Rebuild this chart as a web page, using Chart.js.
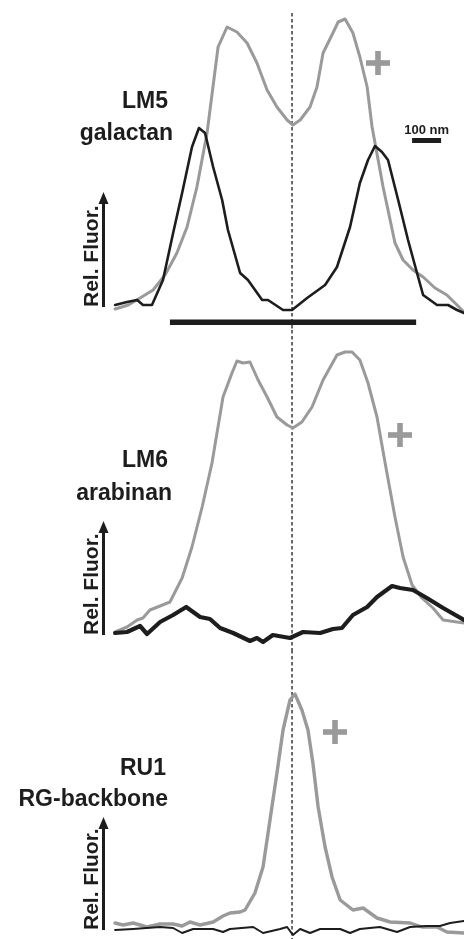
<!DOCTYPE html>
<html>
<head>
<meta charset="utf-8">
<script src="https://cdn.jsdelivr.net/npm/chart.js@4"></script>
<style>
  body { margin: 0; background: #fff; }
  .panel { position: absolute; left: 0; }
</style>
</head>
<body>
<canvas id="lm5" class="panel" width="464" height="330" style="top:0"></canvas>
<canvas id="lm6" class="panel" width="464" height="320" style="top:330px"></canvas>
<canvas id="ru1" class="panel" width="464" height="289" style="top:650px"></canvas>
<script>
// position across the wall, nm (0 = dashed centre line)
const lm5GrayX = [-610, -565, -524, -479, -438, -397, -362, -328, -293, -255, -224, -190, -155, -121, -86, -52, -17, 3, 28, 62, 86, 107, 141, 159, 183, 210, 234, 259, 276, 297, 314, 331, 355, 383, 417, 452, 493, 534, 562, 593];
const lm5GrayY = [4, 8, 15, 23, 38, 60, 86, 126, 180, 266, 286, 281, 270, 250, 223, 206, 193, 188, 193, 206, 226, 260, 280, 291, 294, 280, 256, 226, 186, 153, 126, 103, 70, 53, 43, 36, 25, 18, 10, 1];
const lm5BlackX = [-610, -569, -534, -514, -483, -445, -410, -379, -345, -321, -300, -272, -241, -221, -179, -152, -103, -83, -31, 0, 52, 114, 155, 200, 234, 262, 286, 310, 331, 366, 400, 431, 452, 500, 538, 569, 593];
const lm5BlackY = [8, 11, 13, 8, 8, 33, 80, 120, 166, 185, 180, 146, 113, 83, 40, 33, 13, 13, 3, 3, 15, 28, 46, 86, 130, 153, 167, 161, 153, 113, 73, 40, 18, 8, 8, 3, 0];

const lm6GrayX = [-610, -569, -534, -514, -490, -455, -421, -379, -345, -310, -276, -238, -207, -190, -169, -145, -117, -86, -52, -17, 3, 34, 69, 107, 155, 183, 207, 234, 262, 293, 321, 355, 383, 414, 448, 486, 521, 593];
const lm6GrayY = [8, 13, 20, 22, 30, 34, 38, 62, 93, 133, 177, 243, 267, 279, 277, 278, 260, 243, 223, 215, 212, 218, 233, 260, 285, 288, 288, 280, 257, 223, 177, 123, 83, 55, 42, 32, 20, 17];
const lm6BlackX = [-610, -569, -524, -500, -455, -410, -365, -317, -283, -248, -203, -145, -121, -100, -66, -7, 38, 97, 141, 172, 210, 259, 293, 345, 372, 417, 465, 521, 593];
const lm6BlackY = [7, 8, 14, 6, 18, 25, 33, 23, 21, 12, 7, -1, 2, -2, 5, 2, 8, 7, 11, 12, 25, 33, 43, 54, 52, 50, 42, 32, 20];

const ru1GrayX = [-610, -583, -548, -500, -455, -410, -379, -352, -317, -272, -238, -214, -179, -162, -128, -100, -76, -52, -31, -7, 10, 34, 55, 72, 90, 114, 138, 166, 210, 245, 293, 338, 407, 448, 500, 534, 593];
const ru1GrayY = [12, 10, 12, 8, 11, 11, 9, 13, 10, 13, 19, 22, 23, 25, 42, 68, 115, 162, 205, 235, 241, 225, 205, 172, 128, 88, 58, 35, 25, 27, 17, 13, 12, 8, 8, 3, 2];
const ru1BlackX = [-610, -548, -455, -410, -379, -341, -272, -238, -214, -134, -100, -41, -17, 3, 28, 62, 97, 166, 200, 234, 303, 362, 407, 465, 510, 545, 593];
const ru1BlackY = [5, 6, 8, 7, 2, 6, 6, 3, 6, 8, 2, 6, 8, 0, 6, 2, 6, 6, 2, 6, 8, 3, 8, 9, 9, 12, 14];

const xRange = [-1007, 593];
const spanBar = [-421, 428];   // labelled region under LM5
const scaleBarNm = 100;

const GRAY = "#9a9a9a";
const INK = "#1e1c1d";
const FONT = "'Liberation Sans', Arial, sans-serif";

const toPoints = (xs, ys) => xs.map((x, i) => ({ x, y: ys[i] }));

const panels = [
  {
    id: "lm5", yRange: [-17, 313],
    gray: toPoints(lm5GrayX, lm5GrayY), black: toPoints(lm5BlackX, lm5BlackY),
    grayWidth: 3, blackWidth: 2.6,
    labels: [["LM5", 168, 108], ["galactan", 173, 140]],
    fluorBottom: 307, arrowTip: 192, plus: [378, 63], dashTop: 13,
    bar: true, scaleBar: true,
  },
  {
    id: "lm6", yRange: [-10, 310],
    gray: toPoints(lm6GrayX, lm6GrayY), black: toPoints(lm6BlackX, lm6BlackY),
    grayWidth: 3, blackWidth: 4.2,
    labels: [["LM6", 168, 137], ["arabinan", 172, 170]],
    fluorBottom: 305, arrowTip: 191, plus: [400, 105], dashTop: 0,
  },
  {
    id: "ru1", yRange: [-4, 285],
    gray: toPoints(ru1GrayX, ru1GrayY), black: toPoints(ru1BlackX, ru1BlackY),
    grayWidth: 3.4, blackWidth: 2,
    labels: [["RU1", 166, 125], ["RG-backbone", 168, 156]],
    fluorBottom: 280, arrowTip: 167, plus: [335, 82], dashTop: 0,
  },
];

const decorations = {
  id: "decorations",
  beforeDatasetsDraw(chart) {
    const p = chart.options.plugins.decorations.panel;
    const { ctx } = chart;
    const xs = chart.scales.x;
    const cx = xs.getPixelForValue(0);
    ctx.save();
    ctx.strokeStyle = INK;
    ctx.lineWidth = 1.3;
    ctx.setLineDash([3.5, 2.5]);
    ctx.beginPath();
    ctx.moveTo(cx, p.dashTop);
    ctx.lineTo(cx, chart.height);
    ctx.stroke();
    ctx.restore();
  },
  afterDatasetsDraw(chart) {
    const p = chart.options.plugins.decorations.panel;
    const { ctx } = chart;
    const xs = chart.scales.x;
    ctx.save();

    ctx.fillStyle = INK;
    ctx.font = `bold 23px ${FONT}`;
    ctx.textAlign = "right";
    ctx.textBaseline = "alphabetic";
    p.labels.forEach(([text, x, y]) => ctx.fillText(text, x, y));

    // Rel. Fluor. axis arrow
    ctx.save();
    ctx.translate(98, p.fluorBottom);
    ctx.rotate(-Math.PI / 2);
    ctx.font = `bold 21px ${FONT}`;
    ctx.textAlign = "left";
    ctx.fillText("Rel. Fluor.", 0, 0);
    ctx.restore();
    ctx.strokeStyle = INK;
    ctx.lineWidth = 3;
    ctx.beginPath();
    ctx.moveTo(103.5, p.fluorBottom);
    ctx.lineTo(103.5, p.arrowTip + 8);
    ctx.stroke();
    ctx.beginPath();
    ctx.moveTo(103.5, p.arrowTip);
    ctx.lineTo(98.5, p.arrowTip + 12);
    ctx.lineTo(108.5, p.arrowTip + 12);
    ctx.closePath();
    ctx.fill();

    // plus sign
    ctx.fillStyle = GRAY;
    const [px, py] = p.plus;
    ctx.fillRect(px - 12, py - 2.8, 24, 5.6);
    ctx.fillRect(px - 2.8, py - 12, 5.6, 24);

    ctx.fillStyle = INK;
    if (p.bar) {
      const x0 = xs.getPixelForValue(spanBar[0]);
      const x1 = xs.getPixelForValue(spanBar[1]);
      ctx.fillRect(x0, 319.5, x1 - x0, 5.5);
    }
    if (p.scaleBar) {
      const x0 = xs.getPixelForValue(414);
      const x1 = xs.getPixelForValue(414 + scaleBarNm);
      ctx.fillRect(x0, 138, x1 - x0, 5);
      ctx.font = `bold 13px ${FONT}`;
      ctx.textAlign = "center";
      ctx.fillText("100 nm", (x0 + x1) / 2, 134);
    }
    ctx.restore();
  },
};

panels.forEach((p) => {
  new Chart(document.getElementById(p.id), {
    type: "line",
    data: {
      datasets: [
        { data: p.black, borderColor: INK, borderWidth: p.blackWidth },
        { data: p.gray, borderColor: GRAY, borderWidth: p.grayWidth },
      ],
    },
    options: {
      responsive: false,
      animation: false,
      elements: {
        point: { radius: 0 },
        line: { tension: 0, borderJoinStyle: "round", borderCapStyle: "round", fill: false },
      },
      layout: { padding: 0 },
      scales: {
        x: { type: "linear", min: xRange[0], max: xRange[1], display: false },
        y: { type: "linear", min: p.yRange[0], max: p.yRange[1], display: false },
      },
      plugins: {
        legend: { display: false },
        tooltip: { enabled: false },
        decorations: { panel: p },
      },
    },
    plugins: [decorations],
  });
});
</script>
</body>
</html>
